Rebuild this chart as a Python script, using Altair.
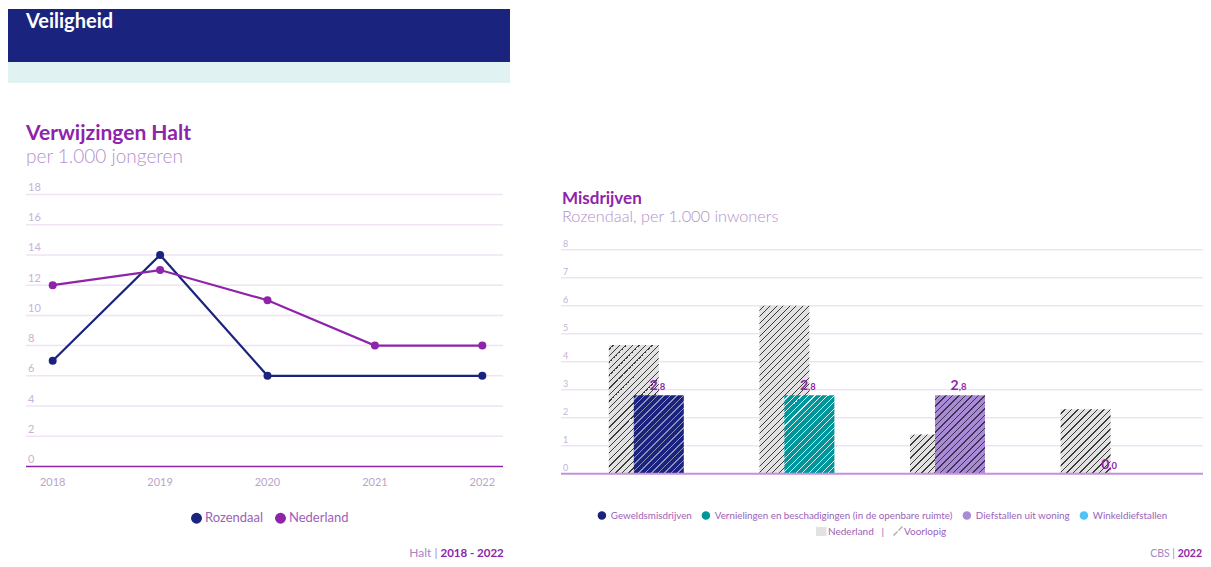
import altair as alt
import pandas as pd

# ---------------- data ----------------
years = ["2018", "2019", "2020", "2021", "2022"]
rozendaal = [7, 14, 6, None, 6]
nederland = [12, 13, 11, 8, 8]
left_ticks = [0, 2, 4, 6, 8, 10, 12, 14, 16, 18]

categories = [
    "Geweldsmisdrijven",
    "Vernielingen en beschadigingen (in de openbare ruimte)",
    "Diefstallen uit woning",
    "Winkeldiefstallen",
]
nl_values = [4.6, 6.0, 1.4, 2.3]
rz_values = [2.8, 2.8, 2.8, 0.0]
right_ticks = [0, 1, 2, 3, 4, 5, 6, 7, 8]

# ---------------- style ----------------
FONT = "Lato"
NAVY = "#1a237e"
PURPLE = "#8e24aa"
TEAL = "#00979c"
LILAC = "#a98bd5"
LBLUE = "#4fc3f7"
STRIP = "#e0f2f1"
GRID = "#efe3f5"
TICKLAB = "#c6b2d8"
SUB = "#b391cb"
LEG = "#9b62b8"
GRAY = "#e2e2e2"
cat_colors = [NAVY, TEAL, LILAC, LBLUE]
cat_hatch = ["#8f92b8", "#d9f1f1", "#3c3150", "#ffffff"]

W, H = 1195, 551
PX_PER_UNIT = 28.0
BAR_W = 50

one = pd.DataFrame({"d": [0]})


def txt(text, x, y, size, color, weight="normal", align="left", baseline="alphabetic"):
    return alt.Chart(one).mark_text(
        text=text, font=FONT, fontSize=size, color=color, fontWeight=weight,
        align=align, baseline=baseline,
    ).encode(x=alt.value(x), y=alt.value(y))


def box(x, x2, y, y2, color):
    return alt.Chart(one).mark_rect(color=color).encode(
        x=alt.value(x), x2=alt.value(x2), y=alt.value(y), y2=alt.value(y2))


def hatch(h, base, line, period=6.5, thick=1.4, w=BAR_W):
    L = w + max(h, 0.001)
    k = L / (w * w + h * h)
    stops = [(0.0, base)]
    s = period * 0.6
    while s < L:
        a = s / L
        b = min((s + thick) / L, 1.0)
        stops += [(a, base), (a, line), (b, line), (b, base)]
        s += period
    stops.append((1.0, base))
    return alt.LinearGradient(
        gradient="linear",
        stops=[alt.GradientStop(color=c, offset=o) for o, c in stops],
        x1=0, y1=0, x2=w * k, y2=h * k,
    )


layers = []

# ---------------- header ----------------
layers.append(box(0, 502, 1, 54, NAVY))
layers.append(box(0, 502, 54, 75, STRIP))
layers.append(txt("Veiligheid", 18, 19.5, 20, "white", weight="bold"))

# ---------------- left chart ----------------
layers.append(txt("Verwijzingen Halt", 18, 132, 21, PURPLE, weight="bold"))
layers.append(txt("per 1.000 jongeren", 18, 155, 19, SUB, weight=300))

ly = alt.Scale(domain=[0, 18], range=[458.5, 186.5])
lx = alt.Scale(type="point", domain=years, range=[44.7, 474.3], padding=0)

lt = pd.DataFrame({"v": left_ticks})
layers.append(
    alt.Chart(lt).transform_filter("datum.v > 0").mark_rule(color=GRID, strokeWidth=1.5)
    .encode(y=alt.Y("v:Q", scale=ly, axis=None), x=alt.value(18), x2=alt.value(495))
)
layers.append(
    alt.Chart(lt).transform_filter("datum.v == 0").mark_rule(color=PURPLE, strokeWidth=1.5)
    .encode(y=alt.Y("v:Q", scale=ly, axis=None), x=alt.value(18), x2=alt.value(495))
)
layers.append(
    alt.Chart(lt).mark_text(align="left", baseline="alphabetic", dy=-3.5, font=FONT,
                            fontSize=11, color=TICKLAB)
    .encode(y=alt.Y("v:Q", scale=ly, axis=None), x=alt.value(20), text="v:Q")
)
layers.append(
    alt.Chart(pd.DataFrame({"year": years})).mark_text(
        baseline="middle", font=FONT, fontSize=11, color="#b9a4cc")
    .encode(x=alt.X("year:O", scale=lx, axis=None), y=alt.value(474.7), text="year:O")
)

rows = []
for y, r, n in zip(years, rozendaal, nederland):
    if r is not None:
        rows.append({"year": y, "series": "Rozendaal", "value": r})
    if n is not None:
        rows.append({"year": y, "series": "Nederland", "value": n})
ldf = pd.DataFrame(rows)
series_scale = alt.Scale(domain=["Rozendaal", "Nederland"], range=[NAVY, PURPLE])

layers.append(
    alt.Chart(ldf).mark_line(strokeWidth=2.2)
    .encode(x=alt.X("year:O", scale=lx, axis=None),
            y=alt.Y("value:Q", scale=ly, axis=None),
            color=alt.Color("series:N", scale=series_scale, legend=None))
)
layers.append(
    alt.Chart(ldf).mark_circle(size=64, opacity=1)
    .encode(x=alt.X("year:O", scale=lx, axis=None),
            y=alt.Y("value:Q", scale=ly, axis=None),
            color=alt.Color("series:N", scale=series_scale,
                            legend=alt.Legend(orient="none", legendX=182, legendY=503.5,
                                              direction="horizontal", title=None,
                                              symbolType="circle", symbolSize=120,
                                              symbolStrokeWidth=0, labelFont=FONT,
                                              labelFontSize=13, labelColor=LEG,
                                              columnPadding=10, labelOffset=2, padding=0)))
)

layers.append(txt("2018 - 2022", 432.5, 549, 11.5, PURPLE, weight="bold"))
layers.append(txt("Halt |", 429.5, 549, 12, "#a983c4", align="right"))

# ---------------- right chart ----------------
layers.append(txt("Misdrijven", 554, 196, 17, PURPLE, weight="bold"))
layers.append(txt("Rozendaal, per 1.000 inwoners", 554, 214.3, 16.3, SUB, weight=300))

ry = alt.Scale(domain=[0, 8], range=[465.7, 241.7])
rx = alt.Scale(domain=categories, range=[563, 1165.4], paddingInner=0, paddingOuter=0)

rt = pd.DataFrame({"v": right_ticks})
layers.append(
    alt.Chart(rt).transform_filter("datum.v > 0").mark_rule(color=GRID, strokeWidth=1.5)
    .encode(y=alt.Y("v:Q", scale=ry, axis=None), x=alt.value(553), x2=alt.value(W))
)
layers.append(
    alt.Chart(rt).mark_text(align="left", baseline="alphabetic", dy=-3, font=FONT,
                            fontSize=9, color=TICKLAB)
    .encode(y=alt.Y("v:Q", scale=ry, axis=None), x=alt.value(555), text="v:Q")
)

for cat, v in zip(categories, nl_values):
    layers.append(
        alt.Chart(pd.DataFrame({"cat": [cat], "v": [v]}))
        .mark_bar(width=BAR_W, xOffset=-12.5, fill=hatch(v * PX_PER_UNIT, GRAY, "#3a3a3a"))
        .encode(x=alt.X("cat:N", scale=rx, axis=None), y=alt.Y("v:Q", scale=ry, axis=None))
    )
for cat, v, col, hc in zip(categories, rz_values, cat_colors, cat_hatch):
    if v <= 0:
        continue
    layers.append(
        alt.Chart(pd.DataFrame({"cat": [cat], "v": [v]}))
        .mark_bar(width=BAR_W, xOffset=12.5, fill=hatch(v * PX_PER_UNIT, col, hc))
        .encode(x=alt.X("cat:N", scale=rx, axis=None), y=alt.Y("v:Q", scale=ry, axis=None))
    )

layers.append(
    alt.Chart(rt).transform_filter("datum.v == 0").mark_rule(color="#c78fdc", strokeWidth=2)
    .encode(y=alt.Y("v:Q", scale=ry, axis=None), x=alt.value(553), x2=alt.value(W))
)

lab = pd.DataFrame({
    "cat": categories,
    "v": rz_values,
    "ip": [f"{v:.1f}".split(".")[0] for v in rz_values],
    "dp": ["," + f"{v:.1f}".split(".")[1] for v in rz_values],
})
layers.append(
    alt.Chart(lab).mark_text(align="right", baseline="alphabetic", dy=-5, xOffset=11.2,
                             font=FONT, fontSize=14, fontWeight="bold", color=PURPLE)
    .encode(x=alt.X("cat:N", scale=rx, axis=None), y=alt.Y("v:Q", scale=ry, axis=None),
            text="ip:N")
)
layers.append(
    alt.Chart(lab).mark_text(align="left", baseline="alphabetic", dy=-5, xOffset=11.2,
                             font=FONT, fontSize=9.5, fontWeight="bold", color=PURPLE)
    .encode(x=alt.X("cat:N", scale=rx, axis=None), y=alt.Y("v:Q", scale=ry, axis=None),
            text="dp:N")
)

# legend (categories)
layers.append(
    alt.Chart(pd.DataFrame({"cat": categories})).mark_point(filled=True, size=10)
    .encode(x=alt.value(-60), y=alt.value(-60),
            color=alt.Color("cat:N", scale=alt.Scale(domain=categories, range=cat_colors),
                            legend=alt.Legend(orient="none", legendX=589, legendY=502.5,
                                              direction="horizontal", title=None,
                                              symbolType="circle", symbolSize=72,
                                              symbolStrokeWidth=0, symbolOpacity=1,
                                              labelFont=FONT, labelFontSize=9.8,
                                              labelColor=LEG, labelLimit=400,
                                              columnPadding=9, labelOffset=4, padding=0)))
)

# legend second row
layers.append(box(808, 818.5, 519, 528, GRAY))
layers.append(txt("Nederland", 820, 523.5, 10, LEG, baseline="middle"))
layers.append(txt("|", 874.7, 523.5, 10, LEG, align="center", baseline="middle"))
layers.append(alt.Chart(one).mark_rule(color="#aaaaaa", strokeWidth=1.2).encode(
    x=alt.value(885.5), y=alt.value(527.5), x2=alt.value(889.5), y2=alt.value(523.5)))
layers.append(alt.Chart(one).mark_rule(color="#aaaaaa", strokeWidth=1.2).encode(
    x=alt.value(890.5), y=alt.value(522.5), x2=alt.value(894.5), y2=alt.value(518.5)))
layers.append(txt("Voorlopig", 896, 523.5, 10, LEG, baseline="middle"))

layers.append(txt("2022", 1194, 549, 10.5, PURPLE, weight="bold", align="right"))
layers.append(txt("CBS |", 1167, 549, 10.5, "#a983c4", align="right"))

chart = (
    alt.layer(*layers)
    .resolve_scale(x="independent", y="independent", color="independent")
    .properties(width=W, height=H, padding=0, autosize=alt.AutoSizeParams(type="none"))
    .configure_view(stroke=None)
)

chart.save("out.html", embed_options={"renderer": "svg", "actions": False})
